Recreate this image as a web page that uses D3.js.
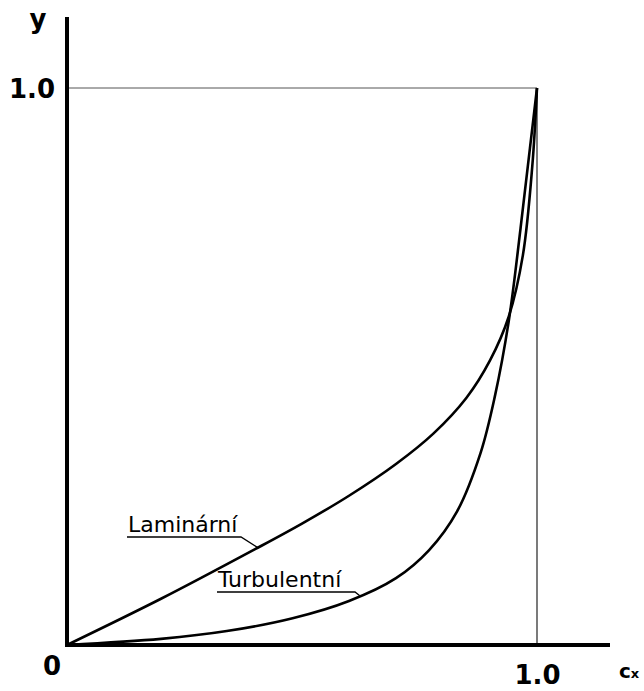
<!DOCTYPE html>
<html>
<head>
<meta charset="utf-8">
<script src="https://cdn.jsdelivr.net/npm/d3@7"></script>
<style>
  body { margin: 0; background: #fff; }
  svg { display: block; }
  text { font-family: "DejaVu Sans", Verdana, sans-serif; }
</style>
</head>
<body>
<div id="chart"></div>
<script>
// Velocity profiles (relative velocity c/cx vs relative height y)
const laminarX = [0, 0.2, 0.4, 0.5, 0.6, 0.7, 0.78, 0.85, 0.9, 0.94, 0.97, 0.99, 1];
const laminarY = [0, 0.083, 0.172, 0.218, 0.268, 0.325, 0.38, 0.444, 0.511, 0.59, 0.70, 0.86, 1];

const turbulentX = [0, 0.2, 0.34, 0.48, 0.6, 0.7, 0.77, 0.83, 0.88, 0.91, 0.94, 0.965, 0.985, 1];
const turbulentY = [0, 0.011, 0.025, 0.048, 0.079, 0.120, 0.170, 0.240, 0.345, 0.445, 0.582, 0.748, 0.892, 1];

const seriesNames = ["Laminární", "Turbulentní"];
// where the leader lines touch each curve (x in data units)
const leaderX = [0.406, 0.623];
const tickValues = [1];

const width = 644, height = 691;

const svg = d3.select("#chart").append("svg")
    .attr("width", width)
    .attr("height", height);

const x = d3.scaleLinear().domain([0, 1]).range([67, 537]);
const y = d3.scaleLinear().domain([0, 1]).range([645, 88]);

// reference lines at 1.0
svg.append("line")
    .attr("x1", x(0)).attr("x2", x(1))
    .attr("y1", y(1)).attr("y2", y(1))
    .attr("stroke", "#555").attr("stroke-width", 1);
svg.append("line")
    .attr("x1", x(1)).attr("x2", x(1))
    .attr("y1", y(1)).attr("y2", y(0))
    .attr("stroke", "#222").attr("stroke-width", 1.2);

// curves
const line = d3.line()
    .x(d => x(d[0]))
    .y(d => y(d[1]))
    .curve(d3.curveCatmullRom.alpha(0.5));

const series = [
    d3.zip(laminarX, laminarY),
    d3.zip(turbulentX, turbulentY)
];

svg.selectAll("path.curve")
    .data(series)
    .join("path")
    .attr("class", "curve")
    .attr("fill", "none")
    .attr("stroke", "#000")
    .attr("stroke-width", 2.6)
    .attr("d", line);

// axes (lines drawn by hand, tick labels via d3 axes)
svg.append("line")
    .attr("x1", x(0)).attr("x2", x(0))
    .attr("y1", 17).attr("y2", y(0) + 2)
    .attr("stroke", "#000").attr("stroke-width", 4);
svg.append("line")
    .attr("x1", x(0) - 2).attr("x2", 610)
    .attr("y1", y(0)).attr("y2", y(0))
    .attr("stroke", "#000").attr("stroke-width", 4);

const axisLeft = svg.append("g")
    .attr("transform", `translate(${x(0) - 2},0)`)
    .call(d3.axisLeft(y).tickValues(tickValues).tickFormat(d3.format(".1f")).tickSize(0).tickPadding(10));
const axisBottom = svg.append("g")
    .attr("transform", `translate(0,${y(0) + 2})`)
    .call(d3.axisBottom(x).tickValues(tickValues).tickFormat(d3.format(".1f")).tickSize(0).tickPadding(12));

[axisLeft, axisBottom].forEach(g => {
    g.select(".domain").remove();
    g.selectAll("text")
        .attr("fill", "#000")
        .style("font-family", '"DejaVu Sans", Verdana, sans-serif')
        .style("font-size", "26px")
        .style("font-weight", "bold");
});
axisLeft.selectAll("text").attr("dy", "0.36em");
axisBottom.selectAll("text").attr("dy", "0.95em");

// origin label and axis titles
svg.append("text")
    .attr("x", 52).attr("y", 675)
    .attr("text-anchor", "middle")
    .attr("font-size", 26).attr("font-weight", "bold")
    .text("0");

svg.append("text")
    .attr("x", 38).attr("y", 28)
    .attr("text-anchor", "middle")
    .attr("font-size", 26).attr("font-weight", "bold")
    .text("y");

const cx = svg.append("text")
    .attr("x", 619).attr("y", 678)
    .attr("font-weight", "bold");
cx.append("tspan").attr("font-size", 20).text("c");
cx.append("tspan").attr("font-size", 13).text("x");

// labels with leader lines
function valueAt(xs, ys, v) {
    const i = Math.max(1, d3.bisectLeft(xs, v));
    const t = (v - xs[i - 1]) / (xs[i] - xs[i - 1]);
    return ys[i - 1] + t * (ys[i] - ys[i - 1]);
}

const labels = [
    { name: seriesNames[0], xs: laminarX, ys: laminarY, lx: leaderX[0], tx: 128, ty: 532, ux: 241, uy: 537 },
    { name: seriesNames[1], xs: turbulentX, ys: turbulentY, lx: leaderX[1], tx: 218, ty: 587, ux: 355, uy: 592 }
];

labels.forEach(l => {
    svg.append("text")
        .attr("x", l.tx).attr("y", l.ty)
        .attr("font-size", 22)
        .text(l.name);
    const tx = x(l.lx), ty = y(valueAt(l.xs, l.ys, l.lx));
    svg.append("polyline")
        .attr("points", [[l.tx - 1, l.uy], [l.ux, l.uy], [tx, ty]].join(" "))
        .attr("fill", "none")
        .attr("stroke", "#000")
        .attr("stroke-width", 1.3);
});
</script>
</body>
</html>
